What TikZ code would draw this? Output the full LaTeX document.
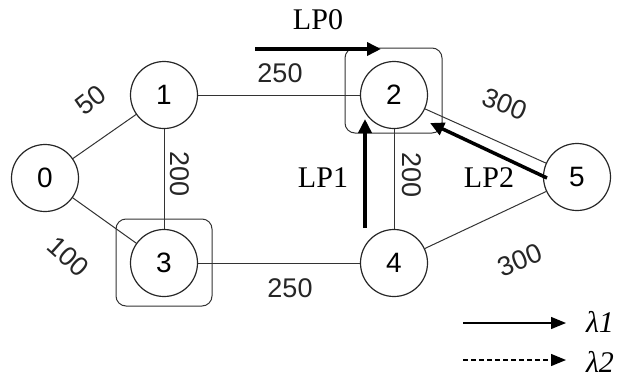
\documentclass[tikz,border=0pt]{standalone}
\usepackage{fontspec}
\setmainfont{Liberation Serif}
\newfontfamily\numfont{Liberation Sans}
\usetikzlibrary{arrows.meta}
\tikzset{
  vtx/.style={circle, draw=black!85, line width=1.2pt, minimum size=67pt, inner sep=0pt, font=\numfont\fontsize{28}{30}\selectfont},
  edge/.style={draw=black!80, line width=1pt},
  wlabel/.style={font=\numfont\fontsize{27}{29}\selectfont, text=black!85, inner sep=0pt},
  lplabel/.style={font=\fontsize{30}{32}\selectfont, inner sep=0pt},
  lparrow/.style={line width=3.5pt, -{Triangle[length=14pt,width=13pt]}},
  legarrow/.style={line width=1.3pt, -{Triangle[length=15pt,width=12pt]}},
  gbox/.style={draw=black!80, line width=1pt, rounded corners=10pt},
}
\begin{document}
\begin{tikzpicture}[x=1pt,y=-1pt]
\useasboundingbox (0,0) rectangle (619,386);
% boxes
\draw[gbox] (116,219) rectangle (212,306);
\draw[gbox] (345,48) rectangle (442,133);
% nodes
\node[vtx] (n0) at (45,178) {0};
\node[vtx] (n1) at (164,95) {1};
\node[vtx] (n2) at (394,95) {2};
\node[vtx] (n3) at (164,263) {3};
\node[vtx] (n4) at (394,263) {4};
\node[vtx] (n5) at (577,177) {5};
% edges
\draw[edge] (n0) -- (n1);
\draw[edge] (n0) -- (n3);
\draw[edge] (n1) -- (n2);
\draw[edge] (n1) -- (n3);
\draw[edge] (n2) -- (n4);
\draw[edge] (n3) -- (n4);
\draw[edge] (n2) -- (n5);
\draw[edge] (n4) -- (n5);
% weights
\node[wlabel, rotate=38] (w01) at (91,100) {50};
\node[wlabel, rotate=-42] (w03) at (68,257) {100};
\node[wlabel] (w12) at (280,73) {250};
\node[wlabel, rotate=-90] (w13) at (180,174) {200};
\node[wlabel, rotate=-90] (w24) at (412,175) {200};
\node[wlabel] (w34) at (290,288) {250};
\node[wlabel, rotate=-22] (w25) at (505,104) {300};
\node[wlabel, rotate=22] (w45) at (520,260) {300};
% lightpaths
\coordinate (a0s) at (255,49);
\coordinate (a0e) at (381,49);
\draw[lparrow] (a0s) -- (a0e);
\node[lplabel] (lp0) at (318,20) {LP0};
\coordinate (a1s) at (365,228);
\coordinate (a1e) at (365,119);
\draw[lparrow] (a1s) -- (a1e);
\node[lplabel] (lp1) at (323,178) {LP1};
\coordinate (a2s) at (547,178);
\coordinate (a2e) at (430,123);
\draw[lparrow] (a2s) -- (a2e);
\node[lplabel] (lp2) at (489,178) {LP2};
% legend
\coordinate (l1s) at (463,323);
\coordinate (l1e) at (566,323);
\draw[legarrow] (l1s) -- (l1e);
\node[lplabel, font=\itshape\fontsize{30}{32}\selectfont] (lam1) at (600,322) {λ1};
\coordinate (l2s) at (463,360);
\coordinate (l2e) at (566,360);
\draw[legarrow, dash pattern=on 5pt off 3pt] (l2s) -- (l2e);
\node[lplabel, font=\itshape\fontsize{30}{32}\selectfont] (lam2) at (600,362) {λ2};
\end{tikzpicture}
\end{document}
